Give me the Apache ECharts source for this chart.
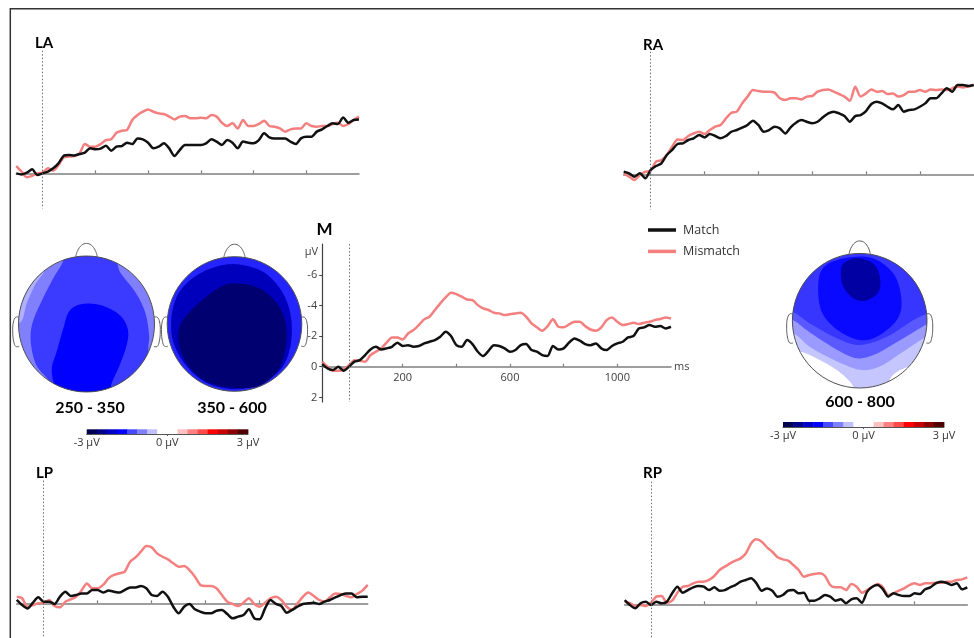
<!DOCTYPE html>
<html><head><meta charset="utf-8">
<script src="https://cdn.jsdelivr.net/npm/echarts@6/dist/echarts.min.js"></script>
<style>html,body{margin:0;padding:0;background:#fff}#c{width:974px;height:638px}</style>
</head><body><div id="c"></div>
<script>
// ---------- DATA ----------
const times = [-100,-80,-60,-40,-20,0,20,40,60,80,100,120,140,160,180,200,220,240,260,280,300,320,340,360,380,400,420,440,460,480,500,520,540,560,580,600,620,640,660,680,700,720,740,760,780,800,820,840,860,880,900,920,940,960,980,1000,1020,1040,1060,1080,1100,1120,1140,1160,1180,1200];

const LA_mismatch = [-0.48,-0.11,0.26,0.17,0,-0.04,-0.33,-0.17,-0.54,-1.04,-1.09,-1.13,-1.3,-1.91,-1.74,-1.74,-1.91,-2.17,-2.22,-2.65,-2.78,-2.83,-3.48,-3.8,-4.02,-4.17,-4.02,-3.91,-3.87,-3.7,-3.52,-3.7,-3.74,-3.59,-3.59,-3.63,-3.59,-3.8,-3.7,-3.3,-3.09,-3.26,-2.93,-3.48,-3.09,-3.09,-3.22,-3.43,-3.09,-3.04,-2.93,-2.72,-2.87,-2.93,-2.93,-3.26,-3.09,-3.04,-3.09,-3.09,-3.22,-3.3,-3.09,-3.22,-3.48,-3.7];
const LA_match = [0,0.07,-0.04,-0.26,0.11,0,-0.11,-0.33,-0.65,-1.15,-1.2,-1.17,-1.26,-1.35,-1.63,-1.57,-1.61,-1.8,-1.48,-1.74,-1.78,-2.0,-1.91,-2.28,-2.22,-2.0,-1.63,-1.74,-1.96,-1.63,-1.13,-1.52,-1.85,-1.85,-1.85,-1.85,-1.96,-2.22,-2.07,-1.85,-2.17,-2.0,-1.63,-2.07,-2.0,-1.96,-2.17,-2.61,-2.35,-2.28,-2.28,-2.28,-2.07,-1.91,-2.28,-2.39,-2.39,-2.72,-2.87,-3.09,-3.26,-3.22,-3.65,-3.3,-3.48,-3.52];

const RA_mismatch = [-0.07,0.15,0.37,0.04,-0.17,-0.24,-0.83,-0.93,-1.26,-1.8,-2.28,-2.24,-2.5,-2.67,-2.78,-2.63,-2.89,-3.11,-3.22,-3.65,-4.02,-4.09,-4.63,-5.07,-5.5,-5.43,-5.39,-5.39,-5.33,-4.96,-4.85,-4.96,-4.96,-4.89,-5.07,-5.11,-5.39,-5.5,-5.54,-5.39,-5.24,-5.07,-4.8,-5.72,-5.07,-5.28,-5.54,-5.39,-5.43,-5.24,-5.28,-5.07,-5.17,-5.39,-5.39,-5.5,-5.39,-5.54,-5.5,-5.54,-5.5,-5.61,-5.72,-5.67,-5.72,-5.83];
const RA_match = [-0.17,-0.07,0.15,-0.07,0.26,-0.28,-0.54,-0.72,-1.26,-1.59,-1.98,-2.02,-2.24,-2.35,-2.57,-2.41,-2.63,-2.5,-2.35,-2.5,-2.78,-2.89,-3.04,-3.22,-3.5,-3.22,-2.78,-2.89,-3.11,-3.0,-2.67,-3.07,-3.37,-3.54,-3.43,-3.33,-3.43,-3.72,-3.98,-4.09,-3.98,-3.8,-3.43,-3.8,-3.87,-4.13,-4.59,-4.74,-4.63,-4.41,-4.24,-4.52,-4.09,-4.2,-4.24,-4.41,-4.63,-4.96,-4.96,-5.28,-5.61,-5.39,-5.83,-5.83,-5.76,-5.83];

const M_mismatch = [-0.33,0,0.26,0.26,0.17,-0.1,-0.43,-0.39,-0.33,-0.76,-0.98,-1.2,-1.57,-1.91,-1.91,-1.78,-2.17,-2.39,-2.72,-3.09,-3.26,-3.7,-4.13,-4.52,-4.83,-4.74,-4.57,-4.39,-4.35,-4.02,-3.8,-3.7,-3.52,-3.48,-3.37,-3.43,-3.48,-3.52,-3.26,-2.83,-2.57,-2.35,-2.65,-3.09,-2.61,-2.57,-2.76,-2.93,-2.93,-2.65,-2.43,-2.35,-2.57,-3.04,-3.22,-2.93,-2.72,-2.78,-2.87,-2.78,-2.87,-2.93,-3.04,-3.11,-3.22,-3.15];
const M_match = [-0.17,0.11,0.22,0,0.26,0,-0.33,-0.43,-0.76,-1.13,-1.3,-1.13,-1.2,-1.3,-1.57,-1.35,-1.41,-1.3,-1.35,-1.52,-1.63,-1.74,-1.96,-2.28,-2.0,-1.41,-1.3,-1.74,-1.48,-0.98,-0.7,-1.04,-1.41,-1.35,-1.2,-0.98,-1.09,-1.41,-1.48,-1.09,-0.98,-0.76,-0.7,-1.35,-1.13,-1.2,-1.57,-1.85,-1.7,-1.48,-1.41,-1.52,-1.2,-1.09,-1.35,-1.52,-1.63,-1.91,-2.0,-2.5,-2.57,-2.72,-2.61,-2.65,-2.5,-2.61];

const LP_mismatch = [-0.43,-0.33,0.22,0.11,0,-0.04,-0.22,0.17,0.26,-0.11,-0.26,-0.43,-0.83,-1.3,-0.98,-0.98,-1.2,-1.63,-1.85,-1.96,-2.07,-2.72,-3.0,-3.37,-3.74,-3.65,-3.26,-3.04,-2.87,-2.61,-2.39,-2.43,-2.17,-1.74,-1.2,-1.13,-1.13,-0.98,-0.54,-0.11,0.04,0.17,-0.04,-0.33,0.04,0.22,-0.04,-0.33,-0.43,-0.22,0.22,0.43,0,-0.43,-0.7,-0.48,-0.22,-0.11,-0.39,-0.65,-0.61,-0.48,-0.39,-0.61,-0.83,-1.2];
const LP_match = [-0.22,0.11,0.33,-0.04,-0.39,-0.11,-0.11,0.04,-0.43,-0.76,-0.48,-0.54,-0.65,-0.65,-0.87,-0.87,-0.7,-0.83,-0.76,-0.7,-0.87,-1.04,-1.04,-1.13,-0.98,-0.54,-0.48,-0.76,-0.43,0.22,0.65,0.22,0.04,0.39,0.54,0.65,0.65,0.48,0.43,0.7,0.98,0.87,0.76,0.39,0.98,1.04,0.33,-0.22,0.04,0.17,0.61,0.43,0.22,0.04,0,-0.04,0.04,-0.11,-0.22,-0.39,-0.54,-0.65,-0.65,-0.39,-0.43,-0.43];

const RP_mismatch = [-0.17,-0.07,0.11,0.04,0.11,-0.11,-0.5,-0.54,-0.11,-0.24,-0.76,-1.15,-1.2,-1.37,-1.48,-1.48,-1.59,-1.85,-2.24,-2.46,-2.67,-2.85,-3.0,-3.33,-3.98,-4.24,-4.09,-3.72,-3.43,-3.07,-2.93,-2.85,-2.57,-2.24,-1.8,-1.91,-1.98,-2.02,-1.85,-1.26,-1.11,-1.11,-0.93,-1.33,-1.15,-0.76,-0.93,-1.15,-1.33,-1.11,-0.61,-0.72,-0.89,-1.04,-1.26,-1.37,-1.26,-1.37,-1.37,-1.41,-1.41,-1.48,-1.48,-1.59,-1.63,-1.76];
const RP_match = [-0.28,0.04,0.26,-0.07,-0.17,0.04,-0.17,-0.07,-0.17,-0.72,-1.15,-0.76,-0.93,-1.11,-1.2,-1.15,-0.93,-1.11,-0.89,-0.93,-1.11,-1.26,-1.48,-1.59,-1.7,-1.37,-0.89,-1.04,-0.89,-0.5,-0.61,-0.89,-0.93,-0.72,-0.76,-0.24,-0.24,-0.39,-0.61,-0.5,-0.24,-0.33,-0.07,-0.33,-0.39,-0.11,-0.83,-1.15,-1.26,-0.98,-0.5,-0.72,-0.61,-0.54,-0.54,-0.72,-0.67,-0.98,-1.11,-1.37,-1.48,-1.41,-1.26,-1.37,-0.98,-1.11];

const xTicks = [0,200,400,600,800,1000];
const xTickLabels = [200,600,1000];
const yTickLabels = [-6,-4,-2,0,2];

// colour scale (µV) of the topographic maps
const cbarEdges = [-3,-2.625,-2.25,-1.875,-1.5,-1.125,-0.75,-0.375,0,0.375,0.75,1.125,1.5,1.875,2.25,2.625,3];
const cbarLabels = [-3,0,3];

// topographic bands: [µV level, contour in head coordinates (radius = 1) or null = whole head]
const head1Bands = [
  [-1.0, null],
  [-0.7, [[-0.98,0.02],[-0.88,0.30],[-0.76,0.57],[-0.61,0.82],[-0.75,1.0],[-1.3,0.8],[-1.3,0.02]]],
  [-1.47, [[-0.39,1.11],[0.34,1.11],[0.49,0.77],[0.71,0.48],[0.86,0.18],[0.92,-0.16],[0.91,-0.41],[0.98,-0.75],[0.34,-1.24],[-0.39,-1.14],[-0.54,-0.85],[-0.74,-0.60],[-0.82,-0.26],[-0.79,0.03],[-0.64,0.38],[-0.49,0.67],[-0.34,0.94]]],
  [-1.8, [[0.05,0.30],[0.29,0.25],[0.51,0.11],[0.61,-0.09],[0.59,-0.31],[0.49,-0.60],[0.37,-0.87],[0.29,-1.14],[-0.34,-1.14],[-0.47,-0.90],[-0.51,-0.65],[-0.44,-0.41],[-0.34,-0.06],[-0.27,0.16],[-0.15,0.27]]]
];
const head2Bands = [
  [-1.6, null],
  [-2.28, [[0.0,0.89],[0.38,0.80],[0.62,0.60],[0.78,0.33],[0.85,0.0],[0.82,-0.38],[0.68,-0.68],[0.38,-0.89],[0.0,-0.97],[-0.4,-0.88],[-0.7,-0.64],[-0.90,-0.30],[-0.94,0.05],[-0.86,0.40],[-0.65,0.66],[-0.34,0.83]]],
  [-2.78, [[-0.04,0.60],[0.23,0.58],[0.48,0.46],[0.68,0.23],[0.77,-0.06],[0.75,-0.41],[0.63,-0.71],[0.36,-0.92],[0.0,-0.95],[-0.36,-0.88],[-0.62,-0.70],[-0.80,-0.40],[-0.83,-0.1],[-0.72,0.12],[-0.45,0.38],[-0.21,0.55]]]
];
const head3Bands = [
  [-0.1, null],
  [-0.56, [[-0.92,-0.45],[-0.66,-0.55],[-0.36,-0.72],[-0.15,-0.9],[0.0,-1.1],[0.3,-1.1],[0.5,-0.8],[0.78,-0.66],[0.97,-0.58],[1.3,-0.3],[1.3,1.3],[-1.3,1.3],[-1.3,-0.4]]],
  [-0.84, [[-0.98,-0.19],[-0.74,-0.39],[-0.39,-0.58],[0.005,-0.73],[0.3,-0.68],[0.6,-0.49],[0.9,-0.29],[1.02,-0.21],[1.3,0.0],[1.3,1.3],[-1.3,1.3],[-1.3,-0.1]]],
  [-1.28, [[-1.0,0.01],[-0.79,-0.14],[-0.49,-0.34],[-0.19,-0.51],[0.005,-0.56],[0.25,-0.49],[0.6,-0.29],[0.85,-0.14],[1.02,-0.04],[1.3,0.1],[1.3,1.3],[-1.3,1.3],[-1.3,0.05]]],
  [-1.5, [[-1.0,0.13],[-0.74,-0.04],[-0.34,-0.26],[0.0,-0.36],[0.4,-0.24],[0.8,0.01],[1.02,0.11],[1.3,0.2],[1.3,1.3],[-1.3,1.3],[-1.3,0.15]]],
  [-1.75, [[-0.59,0.70],[-0.34,0.90],[0.15,0.94],[0.5,0.70],[0.62,0.31],[0.55,0.01],[0.25,-0.24],[-0.04,-0.28],[-0.39,-0.09],[-0.59,0.21]]],
  [-2.44, [[-0.24,0.85],[-0.045,0.93],[0.2,0.85],[0.3,0.65],[0.28,0.43],[0.10,0.30],[-0.09,0.33],[-0.24,0.50],[-0.28,0.70]]]
];
const nosePts = [[-0.16,0.985],[-0.13,1.08],[-0.07,1.16],[0,1.185],[0.07,1.16],[0.13,1.08],[0.16,0.985]];
const earLeft = [[-0.995,0.1],[-1.04,0.1],[-1.075,0.03],[-1.085,-0.12],[-1.07,-0.26],[-1.04,-0.33],[-0.99,-0.33]];
const earRight = [[0.995,0.1],[1.04,0.1],[1.075,0.03],[1.085,-0.12],[1.07,-0.26],[1.04,-0.33],[0.99,-0.33]];

// ---------- STYLE / LAYOUT ----------
const palette = ['#000050','#00008a','#0000c8','#0000ff','#4848ff','#8080ff','#c0c0ff','#ffffff','#ffffff','#ffc0c0','#ff8080','#ff4848','#ff0000','#c80000','#8a0000','#500000'];
const RED = '#f47f7f', BLACK = '#111111', AXIS = '#7f7f7f';
const FONT = 'Open Sans';
const Y_MIN = -8, Y_MAX = 2.3;

const panels = [
  {name:'LA', match:LA_match, mismatch:LA_mismatch, grid:{left:16.3, top:50.7, width:342.7, height:157.9}},
  {name:'RA', match:RA_match, mismatch:RA_mismatch, grid:{left:623.7, top:51.7, width:350, height:157.9}},
  {name:'M',  match:M_match,  mismatch:M_mismatch,  grid:{left:322.2, top:244.1, width:348.8, height:157.9}, axes:true},
  {name:'LP', match:LP_match, mismatch:LP_mismatch, grid:{left:16.7, top:480.7, width:351, height:157.9}},
  {name:'RP', match:RP_match, mismatch:RP_mismatch, grid:{left:624.7, top:481.7, width:342.6, height:157.9}}
];
const heads = [
  {bands:head1Bands, grid:{left:18.5, top:256, width:136, height:136}},
  {bands:head2Bands, grid:{left:167.2, top:256.7, width:134.6, height:134.6}},
  {bands:head3Bands, grid:{left:792.4, top:253.4, width:134.6, height:134.6}}
];
const cbars = [
  {grid:{left:86.7, top:429.3, width:161.3, height:4.7}},
  {grid:{left:783, top:422, width:161, height:5}}
];

function smoothClamp(pts){
  const n = pts.length, out = [];
  for (let i = 0; i < n; i++){
    const p0 = pts[(i-1+n)%n], p1 = pts[i], p2 = pts[(i+1)%n], p3 = pts[(i+2)%n];
    for (let k = 0; k < 10; k++){
      const t = k/10, t2 = t*t, t3 = t2*t;
      const f = (a,b,c,d) => 0.5*(2*b + (-a+c)*t + (2*a-5*b+4*c-d)*t2 + (-a+3*b-3*c+d)*t3);
      let x = f(p0[0],p1[0],p2[0],p3[0]), y = f(p0[1],p1[1],p2[1],p3[1]);
      const r = Math.hypot(x,y);
      if (r > 1){ x /= r; y /= r; }
      out.push([x,y]);
    }
  }
  return out;
}

const grids = [], xAxes = [], yAxes = [], series = [];
const topoSeriesIdx = [];

panels.forEach((p, i) => {
  grids.push(Object.assign({outerBoundsMode:'none', containLabel:false}, p.grid));
  // x axis drawn at the 0 µV level: shift it up from the grid bottom by the 0..Y_MAX span
  const zeroOffset = -p.grid.height * (Y_MAX / (Y_MAX - Y_MIN));
  xAxes.push({
    gridIndex:i, type:'value', min:-100, max:1200, position:'bottom', offset:zeroOffset,
    name: p.axes ? 'ms' : '', nameLocation:'end', nameGap:3,
    nameTextStyle:{fontSize:11, color:'#404040', fontFamily:FONT},
    axisLine:{show:true, onZero:false, lineStyle:{color:AXIS, width:1.5}},
    axisTick:{show:true, inside:true, length:3, customValues:xTicks, lineStyle:{color:AXIS, width:1.2}},
    axisLabel:{show:!!p.axes, customValues:xTickLabels, formatter:v=>String(v), fontSize:11, color:'#404040', margin:6, fontFamily:FONT},
    splitLine:{show:false}
  });
  yAxes.push({
    gridIndex:i, type:'value', inverse:true, min:Y_MIN, max:Y_MAX, position:'left',
    axisLine:{show:!!p.axes, onZero:false, lineStyle:{color:'#404040', width:1.2}},
    axisTick:{show:!!p.axes, length:3, customValues:yTickLabels, lineStyle:{color:'#404040'}},
    axisLabel:{show:!!p.axes, customValues:yTickLabels, formatter:v=>String(v), fontSize:11, color:'#404040', margin:5, fontFamily:FONT},
    splitLine:{show:false}
  });
  series.push({
    name:'Mismatch', type:'line', xAxisIndex:i, yAxisIndex:i,
    data: times.map((t,k)=>[t, p.mismatch[k]]),
    smooth:0.25, showSymbol:false, symbol:'none', z:3,
    lineStyle:{color:RED, width:2.5}, itemStyle:{color:RED},
    markLine:{silent:true, symbol:['none','none'], label:{show:false},
      lineStyle:{type:[1.5,2], color:'#707070', width:1}, data:[{xAxis:0}]}
  });
  series.push({
    name:'Match', type:'line', xAxisIndex:i, yAxisIndex:i,
    data: times.map((t,k)=>[t, p.match[k]]),
    smooth:0.25, showSymbol:false, symbol:'none', z:4,
    lineStyle:{color:BLACK, width:2.5}, itemStyle:{color:BLACK}
  });
});

heads.forEach((h, j) => {
  const gi = grids.length;
  grids.push(Object.assign({outerBoundsMode:'none', containLabel:false}, h.grid));
  xAxes.push({gridIndex:gi, type:'value', min:-1, max:1, show:false});
  yAxes.push({gridIndex:gi, type:'value', min:-1, max:1, show:false});
  topoSeriesIdx.push(series.length);
  series.push({
    name:'topo'+j, type:'custom', coordinateSystem:'cartesian2d', xAxisIndex:gi, yAxisIndex:gi,
    silent:true, z:1, clip:false,
    data: h.bands.map((b,k)=>[b[0], k]),
    encode:{x:-1, y:-1},
    renderItem:(params, api) => {
      const b = h.bands[params.dataIndex];
      const color = api.visual('color');
      const c = api.coord([0,0]);
      const r = api.size([1,0])[0];
      if (!b[1]) return {type:'circle', shape:{cx:c[0], cy:c[1], r:r}, style:{fill:color}};
      return {type:'polygon', shape:{points: smoothClamp(b[1]).map(q=>api.coord(q))}, style:{fill:color}};
    }
  });
  series.push({
    name:'outline'+j, type:'custom', coordinateSystem:'cartesian2d', xAxisIndex:gi, yAxisIndex:gi,
    silent:true, z:5, clip:false, data:[[0,0]],
    renderItem:(params, api) => {
      const c = api.coord([0,0]);
      const r = api.size([1,0])[0];
      const px = arr => arr.map(q=>api.coord(q));
      const ln = {fill:'none', stroke:'#606060', lineWidth:1};
      return {type:'group', children:[
        {type:'circle', shape:{cx:c[0], cy:c[1], r:r}, style:{fill:'none', stroke:'#505050', lineWidth:1}},
        {type:'polyline', shape:{points:px(nosePts), smooth:0.4}, style:ln},
        {type:'polyline', shape:{points:px(earLeft), smooth:0.4}, style:ln},
        {type:'polyline', shape:{points:px(earRight), smooth:0.4}, style:ln}
      ]};
    }
  });
});

const segs = cbarEdges.slice(0,-1).map((e,k)=>[e, cbarEdges[k+1]]);
cbars.forEach((cb) => {
  const gi = grids.length;
  grids.push(Object.assign({outerBoundsMode:'none', containLabel:false}, cb.grid));
  xAxes.push({gridIndex:gi, type:'value', min:-3, max:3,
    axisLine:{show:true, onZero:false, lineStyle:{color:'#555', width:1}},
    axisTick:{show:true, customValues:[0], length:2, lineStyle:{color:'#555'}},
    axisLabel:{show:true, customValues:cbarLabels, formatter:v=>v+' µV', fontSize:11, color:'#333', margin:3, fontFamily:FONT},
    splitLine:{show:false}});
  yAxes.push({gridIndex:gi, type:'value', min:0, max:1, show:false});
  series.push({
    name:'cbar', type:'custom', coordinateSystem:'cartesian2d', xAxisIndex:gi, yAxisIndex:gi,
    silent:true, z:2, data: segs,
    renderItem:(params, api) => {
      const a = api.coord([api.value(0), 1]);
      const b = api.coord([api.value(1), 0]);
      return {type:'rect', shape:{x:a[0], y:a[1], width:b[0]-a[0]+0.4, height:b[1]-a[1]},
        style:{fill: palette[params.dataIndex]}};
    }
  });
});

const T = (text, x, y, font, align) => ({type:'text', x:x, y:y, silent:true,
  style:{text:text, font:font, fill:'#000', align:align||'left', verticalAlign:'middle'}});

const graphic = [
  {type:'rect', shape:{x:10.3, y:8.7, width:1000, height:700}, style:{fill:'none', stroke:'#333', lineWidth:1.5}, silent:true, z:-1},
  T('LA', 35, 43.5, 'bold 15px Lato'),
  T('RA', 643, 45, 'bold 15px Lato'),
  T('M', 316.5, 230, 'bold 17px Lato'),
  T('LP', 36, 473, 'bold 15px Lato'),
  T('RP', 643, 473, 'bold 15px Lato'),
  T('250 - 350', 90, 408, 'bold 16px Lato', 'center'),
  T('350 - 600', 232, 408, 'bold 16px Lato', 'center'),
  T('600 - 800', 860, 402, 'bold 16px Lato', 'center'),
  {type:'text', x:311.5, y:252, silent:true, style:{text:'µV', font:'11px "Open Sans"', fill:'#404040', align:'center', verticalAlign:'middle'}}
];

const chart = echarts.init(document.getElementById('c'));
chart.setOption({
  animation:false,
  backgroundColor:'#fff',
  textStyle:{fontFamily:FONT},
  grid:grids, xAxis:xAxes, yAxis:yAxes,
  legend:{
    data:[{name:'Match', icon:'rect'}, {name:'Mismatch', icon:'rect'}],
    orient:'vertical', left:648, top:223.5, padding:0, itemWidth:28, itemHeight:3.5, itemGap:8.4,
    selectedMode:false, textStyle:{fontSize:12.5, color:'#333', fontFamily:FONT, padding:[0,0,0,2]}
  },
  visualMap:{type:'continuous', show:false, seriesIndex:topoSeriesIdx, dimension:0, min:-3, max:3,
    inRange:{color:palette}},
  graphic:graphic,
  series:series
});
</script>
</body></html>
